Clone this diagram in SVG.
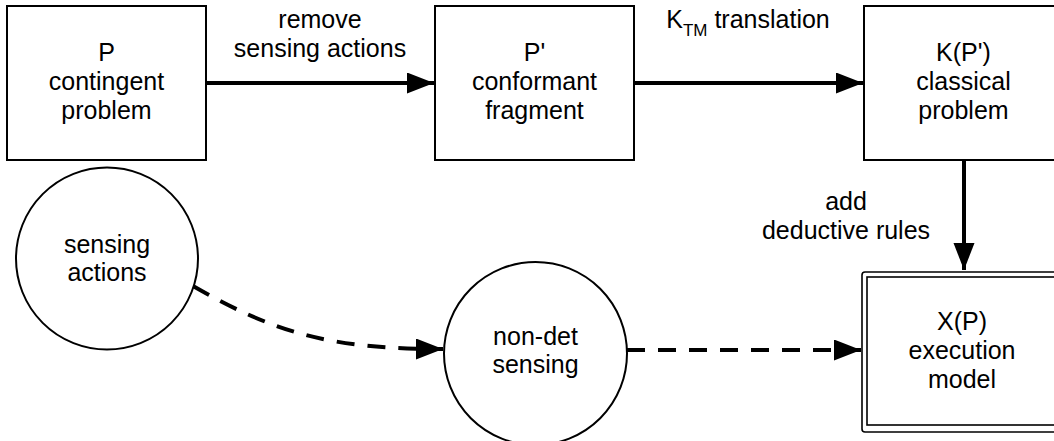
<svg xmlns="http://www.w3.org/2000/svg" width="1054" height="441" viewBox="0 0 1054 441">
  <defs>
    <marker id="head" markerUnits="userSpaceOnUse" markerWidth="28" markerHeight="22" refX="27" refY="10.5" orient="auto">
      <path d="M0,0 L27,10.5 L0,21 Z" fill="#000"/>
    </marker>
    <style>
      .box { fill: #fff; stroke: #000; stroke-width: 2; }
      .circ { fill: #fff; stroke: #000; stroke-width: 2; }
      .lbl { font-family: "Liberation Sans", Arial, Helvetica, sans-serif; font-size: 25px; fill: #000; text-anchor: middle; }
      .sub { font-size: 17px; }
      .edge { fill: none; stroke: #000; stroke-width: 4; marker-end: url(#head); }
      .dash { stroke-dasharray: 18 13; }
    </style>
  </defs>
  <rect width="1054" height="441" fill="#fff"/>

  <!-- connectors -->
  <g id="connectors">
    <line class="edge" x1="206" y1="83" x2="434" y2="83"/>
    <line class="edge" x1="634" y1="83" x2="863" y2="83"/>
    <line class="edge" x1="964" y1="160" x2="964" y2="270"/>
    <path class="edge dash" d="M193,286 C275,333 330,349 443,349"/>
    <line class="edge dash" x1="627" y1="350" x2="861" y2="350"/>
    <text class="lbl" x="320" y="28">remove</text>
    <text class="lbl" x="320" y="57">sensing actions</text>
    <text class="lbl" x="748" y="28">K<tspan class="sub" dy="8">TM</tspan><tspan dy="-8"> translation</tspan></text>
    <text class="lbl" x="846" y="210">add</text>
    <text class="lbl" x="846" y="239">deductive rules</text>
  </g>

  <!-- contingent problem -->
  <g id="node-p">
    <rect class="box" x="7" y="6" width="199" height="154"/>
    <text class="lbl" x="106.5" y="61">P</text>
    <text class="lbl" x="106.5" y="90">contingent</text>
    <text class="lbl" x="106.5" y="119">problem</text>
  </g>

  <!-- conformant fragment -->
  <g id="node-p-prime">
    <rect class="box" x="435" y="6" width="199" height="154"/>
    <text class="lbl" x="534.5" y="61">P'</text>
    <text class="lbl" x="534.5" y="90">conformant</text>
    <text class="lbl" x="534.5" y="119">fragment</text>
  </g>

  <!-- classical problem -->
  <g id="node-k">
    <rect class="box" x="864" y="6" width="199" height="154"/>
    <text class="lbl" x="963.5" y="61">K(P')</text>
    <text class="lbl" x="963.5" y="90">classical</text>
    <text class="lbl" x="963.5" y="119">problem</text>
  </g>

  <!-- execution model (double border) -->
  <g id="node-x">
    <rect x="862" y="272" width="204" height="160" rx="3" fill="#fff" stroke="#000" stroke-width="1.6"/>
    <rect x="867" y="277" width="194" height="148" fill="none" stroke="#000" stroke-width="1.6"/>
    <text class="lbl" x="962" y="330">X(P)</text>
    <text class="lbl" x="962" y="359">execution</text>
    <text class="lbl" x="962" y="388">model</text>
  </g>

  <!-- sensing actions -->
  <g id="node-sensing">
    <circle class="circ" cx="107" cy="258.5" r="91"/>
    <text class="lbl" x="107" y="253">sensing</text>
    <text class="lbl" x="107" y="281">actions</text>
  </g>

  <!-- non-deterministic sensing -->
  <g id="node-nondet">
    <circle class="circ" cx="535.5" cy="353.5" r="91.5"/>
    <text class="lbl" x="535.5" y="345">non-det</text>
    <text class="lbl" x="535.5" y="373">sensing</text>
  </g>
</svg>
